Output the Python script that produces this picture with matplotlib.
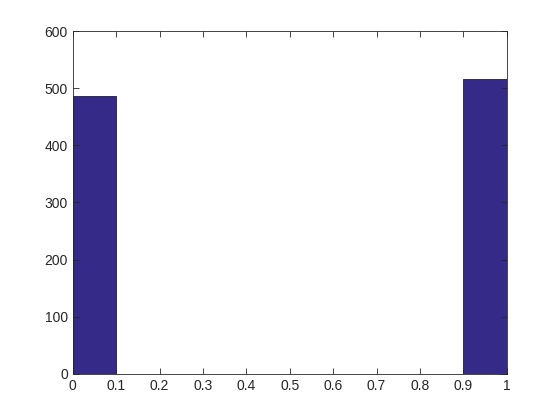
import numpy as np
import matplotlib.pyplot as plt

plt.rcParams['font.family'] = ['Liberation Sans', 'DejaVu Sans']

# Histogram counts (10 bins over [0, 1])
bin_edges = np.linspace(0, 1, 11)
counts = [486, 0, 0, 0, 0, 0, 0, 0, 0, 516]

fig = plt.figure(figsize=(5.6, 4.2), dpi=100)
ax = fig.add_axes([0.130, 0.110, 0.775, 0.816])

ax.bar(bin_edges[:-1], counts, width=np.diff(bin_edges), align="edge",
       color="#352a87", edgecolor="#1e1e3c", linewidth=0.6)

ax.set_xlim(0, 1)
ax.set_ylim(0, 600)
ax.set_xticks(np.arange(0, 1.01, 0.1))
ax.set_xticklabels(["0", "0.1", "0.2", "0.3", "0.4", "0.5", "0.6", "0.7", "0.8", "0.9", "1"])
ax.set_yticks(np.arange(0, 601, 100))

ax.tick_params(direction="in", top=True, right=True, length=4, width=0.6,
               labelsize=10, colors="#262626")
for s in ax.spines.values():
    s.set_linewidth(0.6)
    s.set_color("#262626")

fig.savefig("out.png", dpi=100)
